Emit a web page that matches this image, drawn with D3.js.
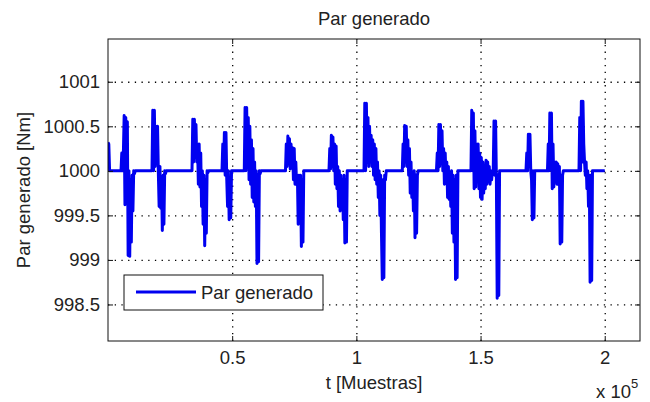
<!DOCTYPE html>
<html>
<head>
<meta charset="utf-8">
<script src="https://cdn.jsdelivr.net/npm/d3@7"></script>
<style>
  html, body { margin: 0; padding: 0; background: #fff; }
  svg { display: block; }
  text { font-family: "Liberation Sans", Arial, sans-serif; fill: #222; }
</style>
</head>
<body>
<svg id="chart" width="650" height="402"></svg>
<script>
// ---------------- data ----------------
const titleText = "Par generado";
const xLabel = "t [Muestras]";
const yLabel = "Par generado [Nm]";
const legendLabel = "Par generado";

const xTickValues = [50000, 100000, 150000, 200000];
const xTickLabels = ["0.5", "1", "1.5", "2"];
const yTickValues = [998.5, 999, 999.5, 1000, 1000.5, 1001];
const yTickLabels = ["998.5", "999", "999.5", "1000", "1000.5", "1001"];

const xDomain = [0, 214200];
const yDomain = [998.09, 1001.48];

const lastSample = 200000;
const baseTorque = 1000;
const sampleStep = 320; // decimated sample spacing inside a burst

// start sample of every burst of torque oscillations
const burstStart = [0, 5230, 17710, 33820, 45900, 54870, 71460, 88970, 103070,
                    118490, 132250, 146140, 168290, 176940, 189630];

// torque values (Nm) of each burst, one per decimated sample
const burstValues = [
  [1000.32, 1000.3, 1000.0],
  [1000, 1000.2, 1000.0, 1000.2, 1000.62, 999.62, 1000.6, 999.65, 1000.55, 999.05, 1000.0, 999.04, 999.9, 999.2, 999.95, 999.55, 1000.0, 999.97, 1000],
  [1000, 1000.68, 1000.0, 1000.68, 1000.05, 1000.5, 1000.1, 1000.5, 999.98, 999.6, 1000.05, 999.58, 999.9, 999.33, 999.95, 999.4, 1000, 999.97, 1000],
  [1000, 1000.58, 1000.1, 1000.58, 1000.15, 1000.52, 1000.1, 1000.28, 999.85, 1000.3, 999.82, 1000.2, 999.6, 1000.0, 999.4, 999.95, 999.16, 999.9, 999.3, 1000, 999.98, 1000],
  [1000, 1000.3, 1000.0, 1000.43, 999.95, 1000.43, 999.9, 999.6, 1000.0, 999.45, 999.9, 999.47, 1000],
  [1000, 1000.71, 1000.0, 1000.71, 1000.1, 1000.6, 999.9, 1000.5, 999.85, 1000.35, 999.7, 1000.25, 999.65, 1000.1, 999.6, 1000.0, 998.96, 999.95, 998.98, 1000, 999.97, 1000],
  [1000, 1000.3, 1000.05, 1000.39, 1000.1, 1000.36, 1000.02, 1000.3, 1000.08, 1000.26, 999.9, 1000.25, 999.85, 1000.1, 999.85, 999.95, 999.4, 999.95, 999.5, 999.95, 999.15, 999.9, 999.2, 1000, 1000],
  [1000, 1000.25, 1000.02, 1000.4, 1000.05, 1000.38, 1000.0, 1000.3, 999.85, 1000.28, 999.8, 1000.05, 999.6, 1000.0, 999.55, 999.95, 999.6, 999.9, 999.45, 999.95, 999.19, 999.9, 999.2, 1000, 1000],
  [1000, 1000.76, 1000.0, 1000.76, 1000.1, 1000.6, 1000.05, 1000.5, 1000.1, 1000.4, 1000.05, 1000.35, 999.95, 1000.3, 999.9, 1000.25, 999.85, 1000.1, 999.7, 1000.0, 999.5, 999.95, 999.3, 998.78, 999.9, 998.8, 999.95, 999.9, 1000, 1000],
  [1000, 1000.3, 1000.05, 1000.51, 1000.1, 1000.5, 1000.05, 1000.35, 999.95, 1000.25, 999.75, 1000.1, 999.7, 999.95, 999.55, 1000.0, 999.25, 999.95, 999.3, 999.95, 1000, 1000],
  [1000, 1000.2, 1000.0, 1000.52, 1000.05, 1000.52, 1000.1, 1000.45, 1000.0, 1000.25, 999.85, 1000.2, 999.9, 1000.1, 999.7, 1000.05, 999.68, 999.95, 999.6, 1000.0, 999.3, 999.95, 999.2, 999.9, 998.78, 999.95, 998.8, 1000, 1000],
  [1000, 1000.68, 1000.0, 1000.65, 999.8, 1000.45, 999.82, 1000.3, 999.95, 1000.3, 999.8, 1000.2, 999.7, 1000.15, 999.68, 1000.1, 999.75, 1000.05, 999.8, 1000.12, 999.85, 1000.1, 999.9, 1000.05, 999.85, 1000.0, 999.9, 1000.0, 1000.0, 1000.56, 999.95, 1000.56, 999.9, 998.57, 999.95, 998.6, 1000, 1000],
  [1000, 1000.2, 1000.0, 1000.41, 1000.05, 1000.41, 1000.0, 999.9, 999.45, 1000.0, 999.47, 1000, 1000],
  [1000, 1000.3, 1000.0, 1000.65, 1000.05, 1000.65, 999.8, 1000.3, 999.82, 1000.1, 999.9, 1000.1, 999.85, 1000.08, 999.9, 1000.05, 999.18, 999.95, 999.2, 999.95, 1000, 1000],
  [1000, 1000.6, 1000.0, 1000.78, 1000.1, 1000.78, 1000.3, 1000.1, 999.95, 1000.1, 999.8, 1000.0, 999.6, 999.95, 998.75, 999.95, 998.77, 1000.0, 1000]
];

// ---------------- build series ----------------
const series = [];
burstStart.forEach((s0, i) => {
  burstValues[i].forEach((v, k) => series.push([s0 + k * sampleStep, v]));
});
series.push([lastSample, baseTorque]);

// ---------------- layout ----------------
const L = 108, R = 640, T = 39, B = 341;
const FS = 18.5;
const svg = d3.select("#chart");

const x = d3.scaleLinear().domain(xDomain).range([L, R]);
const y = d3.scaleLinear().domain(yDomain).range([B, T]);

// plot background
svg.append("rect").attr("x", L).attr("y", T).attr("width", R - L).attr("height", B - T).attr("fill", "#fff");

// grid
const grid = svg.append("g").attr("class", "grid");
grid.append("g").attr("transform", `translate(0,${B})`)
  .call(d3.axisBottom(x).tickValues(xTickValues).tickSize(-(B - T)).tickFormat(""))
  .call(g => g.select(".domain").remove())
  .call(g => g.selectAll("line").attr("stroke", "#000").attr("stroke-width", 1.3).attr("stroke-dasharray", "1.3,5.4"));
grid.append("g").attr("transform", `translate(${L},0)`)
  .call(d3.axisLeft(y).tickValues(yTickValues).tickSize(-(R - L)).tickFormat(""))
  .call(g => g.select(".domain").remove())
  .call(g => g.selectAll("line").attr("stroke", "#000").attr("stroke-width", 1.3).attr("stroke-dasharray", "1.3,5.4"));

// clip
svg.append("clipPath").attr("id", "clip").append("rect")
  .attr("x", L).attr("y", T).attr("width", R - L).attr("height", B - T);

// line
const line = d3.line().x(d => x(d[0])).y(d => y(d[1]));
svg.append("path").datum(series)
  .attr("clip-path", "url(#clip)")
  .attr("d", line)
  .attr("fill", "none")
  .attr("stroke", "#0000f0")
  .attr("stroke-width", 3)
  .attr("stroke-linejoin", "round");

// axes (ticks inside, box)
const tickLen = 5;
function styleAxis(g) {
  g.select(".domain").remove();
  g.selectAll(".tick line").attr("stroke", "#111").attr("stroke-width", 1);
  g.selectAll(".tick text").attr("font-size", FS).attr("fill", "#222")
    .attr("font-family", "Liberation Sans, Arial, sans-serif");
}
svg.append("g").attr("transform", `translate(0,${B})`)
  .call(d3.axisBottom(x).tickValues(xTickValues).tickSizeInner(-tickLen).tickSizeOuter(0)
    .tickPadding(10).tickFormat((d, i) => xTickLabels[i]))
  .call(styleAxis);
svg.append("g").attr("transform", `translate(0,${T})`)
  .call(d3.axisTop(x).tickValues(xTickValues).tickSizeInner(-tickLen).tickSizeOuter(0).tickFormat(""))
  .call(styleAxis);
svg.append("g").attr("transform", `translate(${L},0)`)
  .call(d3.axisLeft(y).tickValues(yTickValues).tickSizeInner(-tickLen).tickSizeOuter(0)
    .tickPadding(8).tickFormat((d, i) => yTickLabels[i]))
  .call(styleAxis);
svg.append("g").attr("transform", `translate(${R},0)`)
  .call(d3.axisRight(y).tickValues(yTickValues).tickSizeInner(-tickLen).tickSizeOuter(0).tickFormat(""))
  .call(styleAxis);

// box
svg.append("rect").attr("x", L).attr("y", T).attr("width", R - L).attr("height", B - T)
  .attr("fill", "none").attr("stroke", "#111").attr("stroke-width", 1);

// title & labels
svg.append("text").attr("x", (L + R) / 2).attr("y", 25).attr("text-anchor", "middle")
  .attr("font-size", FS).text(titleText);
svg.append("text").attr("x", (L + R) / 2).attr("y", 389).attr("text-anchor", "middle")
  .attr("font-size", FS).text(xLabel);
svg.append("text").attr("transform", `translate(30,${(T + B) / 2}) rotate(-90)`)
  .attr("text-anchor", "middle").attr("font-size", FS).text(yLabel);

// exponent label
const ex = svg.append("text").attr("x", 596).attr("y", 398).attr("font-size", FS);
ex.append("tspan").text("x 10");
ex.append("tspan").attr("dy", -10).attr("font-size", 13).text("5");

// legend
const lg = svg.append("g");
lg.append("rect").attr("x", 124).attr("y", 275).attr("width", 199).attr("height", 35)
  .attr("fill", "#fff").attr("stroke", "#111").attr("stroke-width", 1);
lg.append("line").attr("x1", 136).attr("x2", 196).attr("y1", 292).attr("y2", 292)
  .attr("stroke", "#0000f0").attr("stroke-width", 3);
lg.append("text").attr("x", 201).attr("y", 299).attr("font-size", FS).text(legendLabel);
</script>
</body>
</html>
